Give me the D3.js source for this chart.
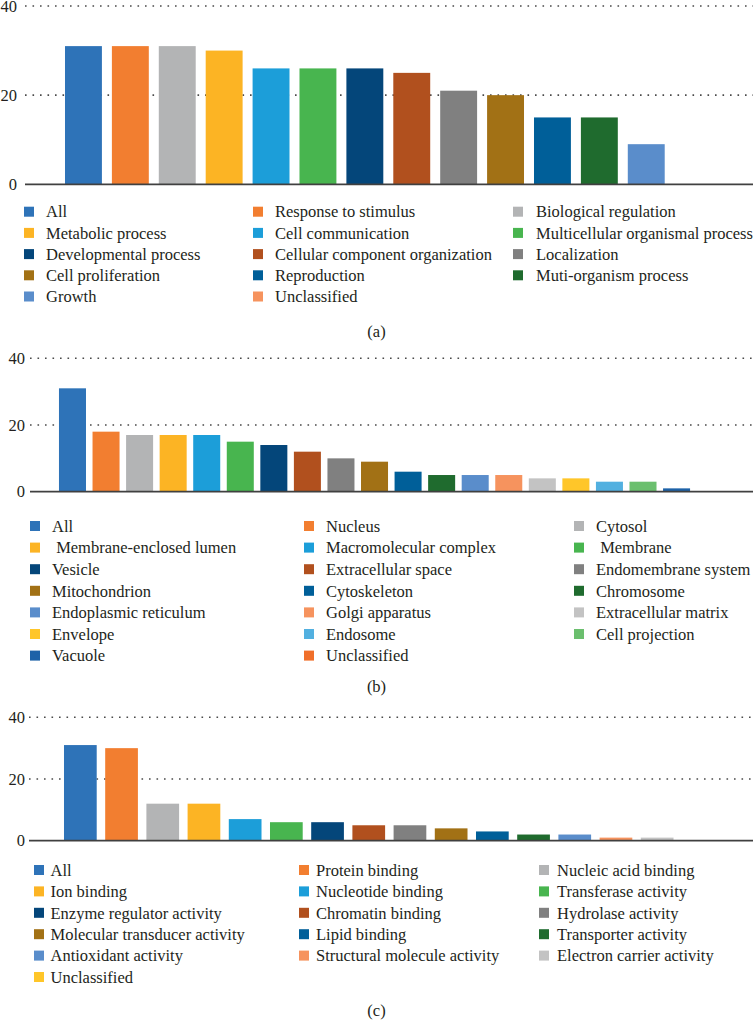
<!DOCTYPE html>
<html><head><meta charset="utf-8">
<script src="https://cdn.jsdelivr.net/npm/d3@7"></script>
<style>
html,body{margin:0;padding:0;background:#fff;}
svg{display:block;}
text{font-family:"Liberation Serif","DejaVu Serif",serif;fill:#231f20;}
.leg text{white-space:pre;}
</style></head>
<body>
<svg id="chart" width="753" height="1032"></svg>
<script>
// ---------- DATA ----------
const catsA = ["All","Response to stimulus","Biological regulation","Metabolic process","Cell communication","Multicellular organismal process","Developmental process","Cellular component organization","Localization","Cell proliferation","Reproduction","Muti-organism process","Growth","Unclassified"];
const valsA = [31,31,31,30,26,26,26,25,21,20,15,15,9,0];
const colorsA = ["#2e73b8","#f27e30","#b3b4b5","#fcb424","#1c9ed9","#48b54f","#04467a","#b1501e","#808080","#a27115","#005f99","#1f6b2e","#5a8dcb","#f6935e"];

const catsB = ["All","Nucleus","Cytosol"," Membrane-enclosed lumen","Macromolecular complex"," Membrane","Vesicle","Extracellular space","Endomembrane system","Mitochondrion","Cytoskeleton","Chromosome","Endoplasmic reticulum","Golgi apparatus","Extracellular matrix","Envelope","Endosome","Cell projection","Vacuole","Unclassified"];
const valsB = [31,18,17,17,17,15,14,12,10,9,6,5,5,5,4,4,3,3,1,0];
const colorsB = ["#2e73b8","#f27e30","#b3b4b5","#fcb424","#1c9ed9","#48b54f","#04467a","#b1501e","#808080","#a27115","#005f99","#1f6b2e","#5a8dcb","#f6935e","#c3c3c3","#ffc629","#52b0e0","#6bbf6e","#1d62a8","#f06f2a"];

const catsC = ["All","Protein binding","Nucleic acid binding","Ion binding","Nucleotide binding","Transferase activity","Enzyme regulator activity","Chromatin binding","Hydrolase activity","Molecular transducer activity","Lipid binding","Transporter activity","Antioxidant activity","Structural molecule activity","Electron carrier activity","Unclassified"];
const valsC = [31,30,12,12,7,6,6,5,5,4,3,2,2,1,1,0];
const colorsC = ["#2e73b8","#f27e30","#b3b4b5","#fcb424","#1c9ed9","#48b54f","#04467a","#b1501e","#808080","#a27115","#005f99","#1f6b2e","#5a8dcb","#f6935e","#c3c3c3","#ffc629"];

const yTicks = [0,20,40];
const captions = ["(a)","(b)","(c)"];

// ---------- LAYOUT ----------
const panels = [
  {cats:catsA, vals:valsA, colors:colorsA, y0:184.3, y40:6, gx:25, labX:17, r0:60, step:46.9, pad:0.213,
   legRows:[211.7,232.9,254.1,275.3,296.5], sq:[24,253,513], tx:[46,275,536], cap:331.5},
  {cats:catsB, vals:valsB, colors:colorsB, y0:491.7, y40:358.3, gx:30, labX:25, r0:55.7, step:33.56, pad:0.195,
   legRows:[526,547.6,569.2,590.8,612.4,634,655.6], sq:[30,304,574], tx:[52,326,596], cap:686.7},
  {cats:catsC, vals:valsC, colors:colorsC, y0:840.7, y40:717.3, gx:29, labX:25, r0:59.75, step:41.2, pad:0.206,
   legRows:[870,891.4,912.8,934.2,955.6,977], sq:[34,299,539], tx:[50.5,316,557], cap:1010}
];

const svg = d3.select("#chart");
const W = 753;

panels.forEach((p,pi)=>{
  const g = svg.append("g");
  const y = d3.scaleLinear().domain([0,40]).range([p.y0,p.y40]);
  const x = d3.scaleBand().domain(p.cats)
    .range([p.r0, p.r0 + p.cats.length*p.step])
    .paddingInner(p.pad).paddingOuter(p.pad/2);

  // gridlines
  g.selectAll("line.grid").data(yTicks.filter(t=>t>0)).join("line")
    .attr("x1",p.gx).attr("x2",W)
    .attr("y1",d=>y(d)).attr("y2",d=>y(d))
    .attr("stroke","#4a4a4a").attr("stroke-width",1.6)
    .attr("stroke-dasharray","1.6 5.9");

  // tick labels
  g.selectAll("text.tick").data(yTicks).join("text")
    .attr("x",p.labX).attr("y",d=>y(d)).attr("dy","0.35em")
    .attr("text-anchor","end").attr("font-size",16.5)
    .text(d=>d);

  // bars
  g.selectAll("rect.bar").data(p.cats).join("rect")
    .attr("x",d=>x(d)).attr("width",x.bandwidth())
    .attr("y",(d,i)=>y(p.vals[i]))
    .attr("height",(d,i)=>y(0)-y(p.vals[i]))
    .attr("fill",(d,i)=>p.colors[i]);

  // baseline
  g.append("line").attr("x1",p.gx).attr("x2",W)
    .attr("y1",y(0)).attr("y2",y(0))
    .attr("stroke","#404040").attr("stroke-width",1.8);

  // legend
  const leg = g.append("g").attr("class","leg");
  p.cats.forEach((c,i)=>{
    const col = i%3, row = Math.floor(i/3);
    const cy = p.legRows[row];
    leg.append("rect").attr("x",p.sq[col]).attr("y",cy-5).attr("width",10).attr("height",10)
      .attr("fill",p.colors[i]);
    leg.append("text").attr("x",p.tx[col]).attr("y",cy).attr("dy","0.35em")
      .attr("font-size",16.5).text(c);
  });

  g.append("text").attr("x",W/2).attr("y",p.cap).attr("dy","0.35em")
    .attr("text-anchor","middle").attr("font-size",16.5).text(captions[pi]);
});
</script>
</body></html>
